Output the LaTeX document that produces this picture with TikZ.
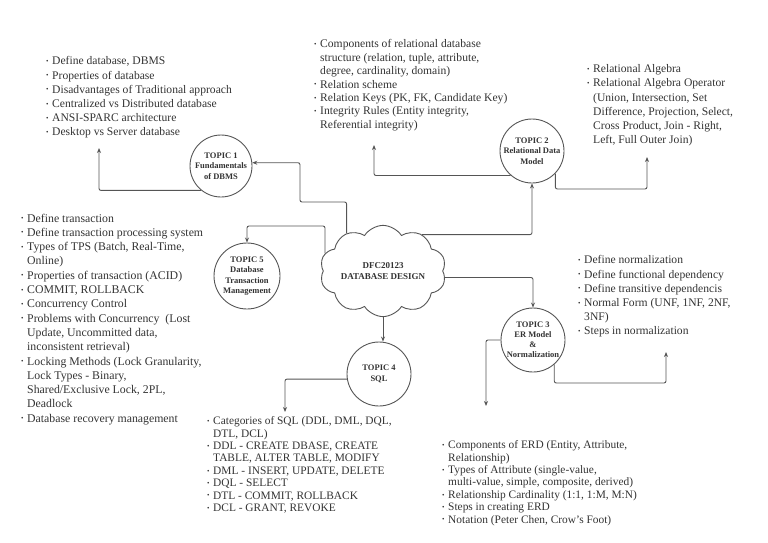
\documentclass[tikz,border=0pt]{standalone}
\usepackage{fontspec}
\setmainfont{Liberation Serif}
\usetikzlibrary{shapes.symbols,arrows.meta}
\definecolor{txt}{HTML}{333333}
\definecolor{ln}{HTML}{555555}
\newcommand\bi{\makebox[6pt][l]{\raisebox{0.25ex}{\fontsize{7}{7}\selectfont\textbullet}}}
\newcommand\ci{\hspace*{6pt}}
\begin{document}
\begin{tikzpicture}[x=1pt,y=-1pt,
  topic/.style={circle,draw=ln,line width=0.9pt,minimum size=#1,inner sep=0pt,align=center,
    font=\fontsize{8.5}{10.5}\selectfont\bfseries,text=txt},
  corecloud/.style={cloud,cloud puffs=10,cloud puff arc=115,aspect=1.6,draw=ln,line width=0.9pt,
    minimum width=117pt,minimum height=73pt,inner sep=0pt,align=center,
    font=\fontsize{9}{10.5}\selectfont\bfseries,text=txt},
  itemlist/.style={anchor=north west,inner sep=0pt,align=left,text=txt,
    font=\fontsize{11.6}{14.2}\selectfont},
  tightlist/.style={itemlist,font=\fontsize{11.4}{12.4}\selectfont},
  arr/.style={draw=ln,line width=0.9pt,rounded corners=2pt,-{Stealth[length=5pt,width=4pt]}}
]
\useasboundingbox (0,0) rectangle (768,543);

% central cloud and topic circles
\node[corecloud] (core) at (383,271) {DFC20123\\DATABASE DESIGN};
\node[topic=62pt] (t1) at (221,166) {TOPIC 1\\Fundamentals\\of DBMS};
\node[topic=64pt] (t2) at (532,151) {TOPIC 2\\Relational Data\\Model};
\node[topic=64pt,font=\fontsize{8.5}{10}\selectfont\bfseries] (t3) at (533,340) {TOPIC 3\\ER Model\\\&\\Normalization};
\node[topic=64pt] (t4) at (379,374) {TOPIC 4\\SQL};
\node[topic=66pt] (t5) at (247,276) {TOPIC 5\\Database\\Transaction\\Management};

% lists
\node[itemlist] (l1) at (46,56.5) {\bi Define database, DBMS\\
\bi Properties of database\\
\bi Disadvantages of Traditional approach\\
\bi Centralized vs Distributed database\\
\bi ANSI-SPARC architecture\\
\bi Desktop vs Server database};

\node[itemlist,font=\fontsize{11.6}{13.4}\selectfont] (l2) at (314,39.5) {\bi Components of relational database\\
\ci structure (relation, tuple, attribute,\\
\ci degree, cardinality, domain)\\
\bi Relation scheme\\
\bi Relation Keys (PK, FK, Candidate Key)\\
\bi Integrity Rules (Entity integrity,\\
\ci Referential integrity)};

\node[itemlist] (l2b) at (587,64.5) {\bi Relational Algebra\\
\bi Relational Algebra Operator\\
\ci (Union, Intersection, Set\\
\ci Difference, Projection, Select,\\
\ci Cross Product, Join - Right,\\
\ci Left, Full Outer Join)};

\node[itemlist,font=\fontsize{11.8}{14.3}\selectfont] (l5) at (21,213.5) {\bi Define transaction\\
\bi Define transaction processing system\\
\bi Types of TPS (Batch, Real-Time,\\
\ci Online)\\
\bi Properties of transaction (ACID)\\
\bi COMMIT, ROLLBACK\\
\bi Concurrency Control\\
\bi Problems with Concurrency ~(Lost\\
\ci Update, Uncommitted data,\\
\ci inconsistent retrieval)\\
\bi Locking Methods (Lock Granularity,\\
\ci Lock Types - Binary,\\
\ci Shared/Exclusive Lock, 2PL,\\
\ci Deadlock\\
\bi Database recovery management};

\node[itemlist] (l3b) at (578,255.5) {\bi Define normalization\\
\bi Define functional dependency\\
\bi Define transitive dependencis\\
\bi Normal Form (UNF, 1NF, 2NF,\\
\ci 3NF)\\
\bi Steps in normalization};

\node[tightlist] (l4) at (207,416.5) {\bi Categories of SQL (DDL, DML, DQL,\\
\ci DTL, DCL)\\
\bi DDL - CREATE DBASE, CREATE\\
\ci TABLE, ALTER TABLE, MODIFY\\
\bi DML - INSERT, UPDATE, DELETE\\
\bi DQL - SELECT\\
\bi DTL - COMMIT, ROLLBACK\\
\bi DCL - GRANT, REVOKE};

\node[tightlist] (l6) at (442,440.5) {\bi Components of ERD (Entity, Attribute,\\
\ci Relationship)\\
\bi Types of Attribute (single-value,\\
\ci multi-value, simple, composite, derived)\\
\bi Relationship Cardinality (1:1, 1:M, M:N)\\
\bi Steps in creating ERD\\
\bi Notation (Peter Chen, Crow's Foot)};

% waypoints and arrow ends
\coordinate (w1) at (300,202);
\coordinate (a1) at (99,148);
\coordinate (w5) at (247,226);
\coordinate (a2) at (374,145);
\coordinate (w2b) at (647,189);
\coordinate (a2b) at (647,157);
\coordinate (w3b) at (666,383);
\coordinate (a3b) at (666,352);
\coordinate (a6) at (486,406);
\coordinate (a4) at (285,412);

% connectors
\draw[arr] (core.134) |- (w1) |- (t1.6);
\draw[arr] (t1.231) -| (a1);
\draw[arr] (core.163) |- (w5) -- (t5.north);
\draw[arr] (core.43) -| (t2.south);
\draw[arr] (t2.229) -| (a2);
\draw[arr] (t2.316) |- (w2b) -- (a2b);
\draw[arr] (core.-6) -| (t3.north);
\draw[arr] (t3.311) |- (w3b) -- (a3b);
\draw[arr] (t3.west) -| (a6);
\draw[arr] (core.south) -- (core.south |- t4.north);
\draw[arr] (t4.189) -| (a4);
\end{tikzpicture}
\end{document}
